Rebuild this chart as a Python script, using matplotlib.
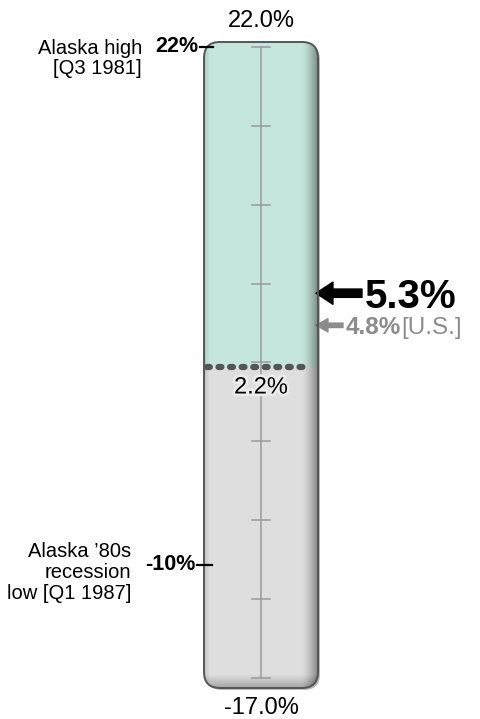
import numpy as np
import matplotlib
matplotlib.use('Agg')
import matplotlib.pyplot as plt
import matplotlib.transforms as mtransforms
from matplotlib.patches import FancyBboxPatch, Rectangle
import matplotlib.patheffects as pe

plt.rcParams['font.family'] = ['Liberation Sans', 'DejaVu Sans']

# gauge scale and readings (percent)
scale_top = 22.0
scale_bottom = -17.0
current_rate = 2.2
alaska_rate = 5.3
us_rate = 4.8
mark_values = [22, -10]
mark_labels = ['22%', '-10%']
mark_notes = ['Alaska high\n[Q3 1981]', 'Alaska \u201980s\nrecession\nlow [Q1 1987]']

PX = 16.18  # pixels per percentage point on the tube

fig = plt.figure(figsize=(4.8, 7.19), dpi=100)
ax = fig.add_axes([0, 0, 1, 1])
ax.set_xlim(0, 480)
ylim = (scale_bottom - 41 / PX, scale_top + 47 / PX)
ax.set_ylim(*ylim)
ax.axis('off')

x0, x1 = 204, 318
xc = (x0 + x1) / 2
y0 = scale_bottom - 10 / PX
y1 = scale_top + 5 / PX


def tube(**kw):
    return FancyBboxPatch((x0, y0), x1 - x0, y1 - y0,
                          boxstyle='round,pad=0,rounding_size=16',
                          mutation_aspect=1 / PX, **kw)


def shifted(dx=0, dy=0):
    return mtransforms.offset_copy(ax.transData, fig=fig, x=dx, y=dy, units='dots')


# drop shadow
shadow = tube(facecolor='#3a3a3a', edgecolor='none', alpha=0.35, zorder=1)
shadow.set_transform(shifted(2, -2))
ax.add_patch(shadow)

ax.add_patch(tube(facecolor='#dedede', edgecolor='none', zorder=2))
green = tube(facecolor='#c5e6dc', edgecolor='none', zorder=3)
ax.add_patch(green)
green.set_clip_path(Rectangle((x0, current_rate), x1 - x0, y1 - current_rate,
                              transform=ax.transData))

# inner shading towards the right edge and bottom
xs = np.linspace(0, 1, 200)
ys = np.linspace(0, 1, 600)
ax_alpha = np.clip((xs - 0.85) / 0.15, 0, 1) ** 1.6 * 0.4 + np.clip((0.05 - xs) / 0.05, 0, 1) * 0.12
ay_alpha = np.clip((0.02 - ys) / 0.02, 0, 1) * 0.25
shade = np.zeros((600, 200, 4))
shade[..., 3] = np.clip(ax_alpha[None, :] + ay_alpha[:, None], 0, 0.5)
im = ax.imshow(shade, extent=(x0, x1, y0, y1), origin='lower', aspect='auto',
               interpolation='bilinear', zorder=4)
clip_tube = tube(facecolor='none', edgecolor='none')
ax.add_patch(clip_tube)
im.set_clip_path(clip_tube)
ax.add_patch(tube(facecolor='none', edgecolor='#555555', lw=1.4, zorder=5))
ax.set_xlim(0, 480)
ax.set_ylim(*ylim)

# scale line with ticks
ax.plot([xc, xc], [scale_bottom, scale_top], color='#999999', lw=1.1, zorder=6)
for t in np.linspace(scale_bottom, scale_top, 9):
    ax.plot([xc - 9, xc + 9], [t, t], color='#999999', lw=1.1, zorder=6)

# current level
ax.plot([x0 + 3, x1 - 9], [current_rate] * 2, color='#555555', lw=4.5,
        dashes=(0.45, 1.4), dash_capstyle='round', zorder=7)
ax.annotate(f'{current_rate:.1f}%', xy=(xc, current_rate), xytext=(0, -14.5),
            textcoords='offset points', ha='center', va='center', fontsize=17,
            zorder=8, path_effects=[pe.withStroke(linewidth=4, foreground='#ececec')])

ax.annotate(f'{scale_top:.1f}%', xy=(xc, scale_top), xytext=(0, 19),
            textcoords='offset points', ha='center', va='center', fontsize=17)
ax.annotate(f'{scale_bottom:.1f}%', xy=(xc, scale_bottom), xytext=(0, -21.5),
            textcoords='offset points', ha='center', va='center', fontsize=17)

# historical marks
ax.plot([200, 213], [mark_values[0]] * 2, color='black', lw=1.6, zorder=6)
ax.text(198, mark_values[0], mark_labels[0], ha='right', va='center',
        fontsize=15.5, weight='bold')
ax.annotate(mark_notes[0], xy=(142, mark_values[0]), xytext=(0, 6),
            textcoords='offset points', ha='right', va='top', fontsize=14.5,
            linespacing=1.12)
ax.plot([197, 212], [mark_values[1]] * 2, color='black', lw=1.6, zorder=6)
ax.text(195, mark_values[1], mark_labels[1], ha='right', va='center',
        fontsize=15.5, weight='bold')
ax.annotate(mark_notes[1], xy=(131, mark_values[1]), xytext=(0, -5.5),
            textcoords='offset points', ha='right', va='center', fontsize=14.5,
            linespacing=1.12)

# Alaska and U.S. readings
lift = shifted(0, 24)
ax.annotate('', xy=(316, alaska_rate), xycoords=lift,
            xytext=(362, alaska_rate), textcoords=lift,
            arrowprops=dict(arrowstyle='simple,head_length=0.61,head_width=0.8,tail_width=0.3',
                            mutation_scale=20, color='black', shrinkA=0, shrinkB=0))
ax.annotate(f'{alaska_rate}%', xy=(365, alaska_rate), xycoords=lift,
            ha='left', va='center_baseline', fontsize=29, weight='bold')
ax.annotate('', xy=(316, us_rate), xytext=(343, us_rate),
            arrowprops=dict(arrowstyle='simple,head_length=0.86,head_width=0.95,tail_width=0.32',
                            mutation_scale=10, color='#8c8c8c', shrinkA=0, shrinkB=0))
ax.text(346, us_rate, f'{us_rate}%', ha='left', va='center_baseline',
        fontsize=17.5, weight='bold', color='#8c8c8c')
ax.text(401, us_rate, '[U.S.]', ha='left', va='center_baseline',
        fontsize=17.5, color='#8c8c8c')

fig.savefig('out.png', dpi=100)
